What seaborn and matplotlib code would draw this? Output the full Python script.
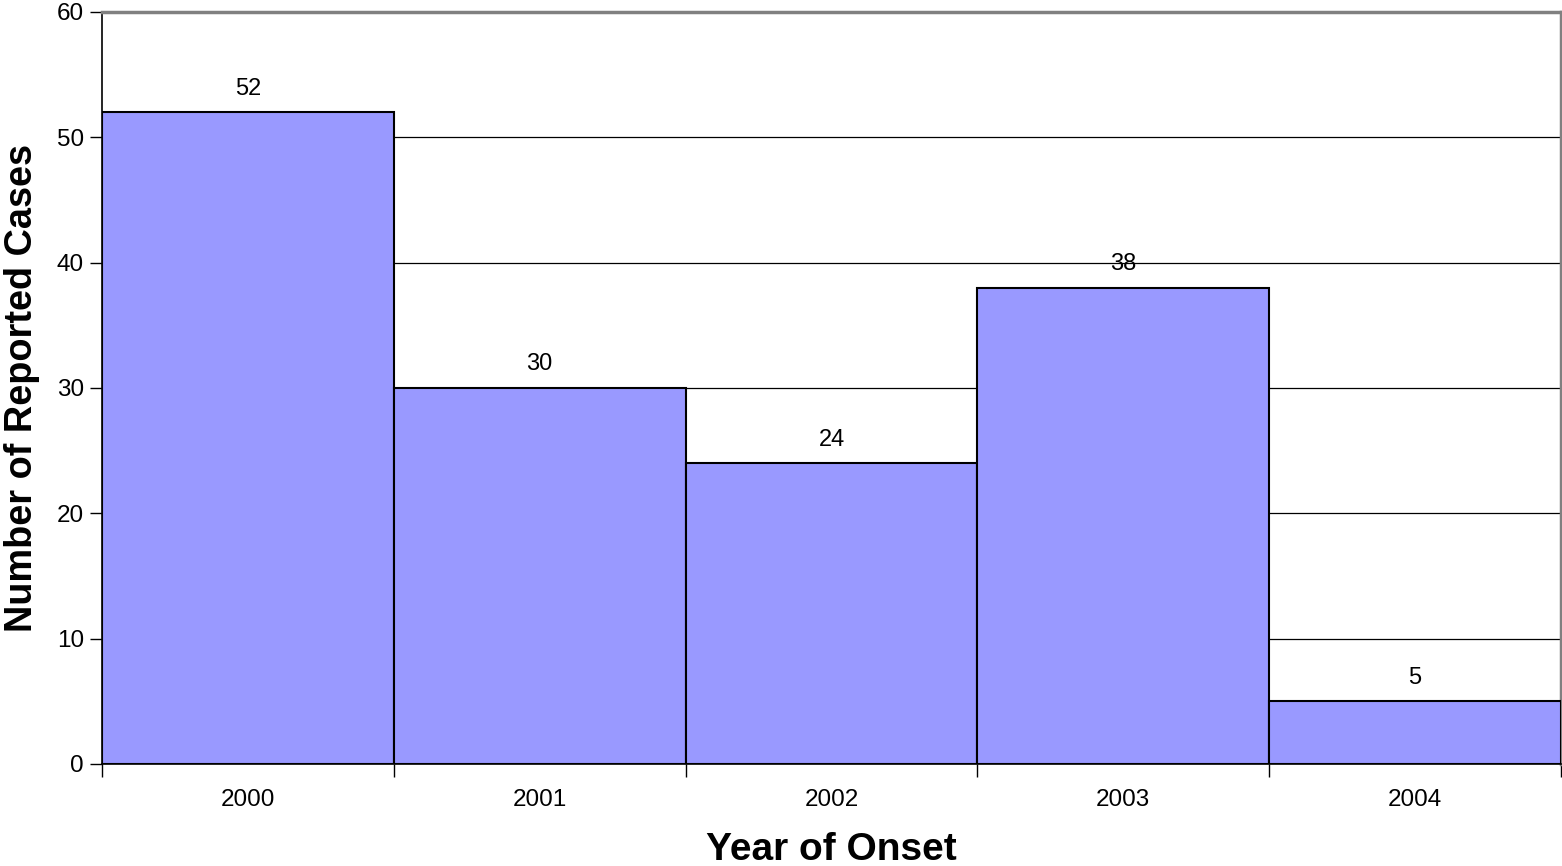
import matplotlib
matplotlib.use("Agg")
import matplotlib.pyplot as plt
import seaborn as sns
import pandas as pd

years = ["2000", "2001", "2002", "2003", "2004"]
cases = [52, 30, 24, 38, 5]

sns.set_theme(style="white")
plt.rcParams['font.family'] = ['Liberation Sans', 'DejaVu Sans']
plt.rcParams['text.color'] = 'black'
plt.rcParams['axes.labelcolor'] = 'black'
plt.rcParams['xtick.color'] = 'black'
plt.rcParams['ytick.color'] = 'black'

df = pd.DataFrame({"year": years, "cases": cases})

fig = plt.figure(figsize=(15.62, 8.66), dpi=100)
ax = fig.add_axes([102/1562, 1 - 764/866, (1561-102)/1562, (764-12)/866])

sns.barplot(data=df, x="year", y="cases", color="#9999FF", saturation=1,
            width=1.0, edgecolor="black", linewidth=1.5, ax=ax, zorder=3)

ax.set_xlim(-0.5, len(years) - 0.5)
ax.set_ylim(0, 60)
ax.set_yticks(range(0, 61, 10))
ax.yaxis.grid(True, color="black", linewidth=0.9, zorder=0)
ax.set_axisbelow(True)

# ticks at category boundaries
ax.set_xticks([i - 0.5 for i in range(len(years) + 1)], minor=False)
ax.set_xticklabels([])
ax.set_xticks(range(len(years)), minor=True)
ax.set_xticklabels(years, minor=True, fontsize=17.5)
ax.tick_params(axis="x", which="major", length=9, width=1, color="black", direction="out", bottom=True)
ax.tick_params(axis="x", which="minor", length=0, pad=18)
ax.tick_params(axis="y", length=9, width=1, color="black", direction="out", left=True, labelsize=17.5, pad=4)

for i, v in enumerate(cases):
    ax.text(i, v + 1.0, str(v), ha="center", va="bottom", fontsize=17, color="black", zorder=5)

ax.set_xlabel("Year of Onset", fontsize=28, fontweight="bold", labelpad=15)
ax.set_ylabel("Number of Reported Cases", fontsize=27.3, fontweight="bold", labelpad=12)

for s in ["left", "bottom"]:
    ax.spines[s].set_color("black")
    ax.spines[s].set_linewidth(1.2)
for s in ["top", "right"]:
    ax.spines[s].set_color("#808080")
    ax.spines[s].set_linewidth(2.5)

fig.savefig("out.png", dpi=100, facecolor="white")
